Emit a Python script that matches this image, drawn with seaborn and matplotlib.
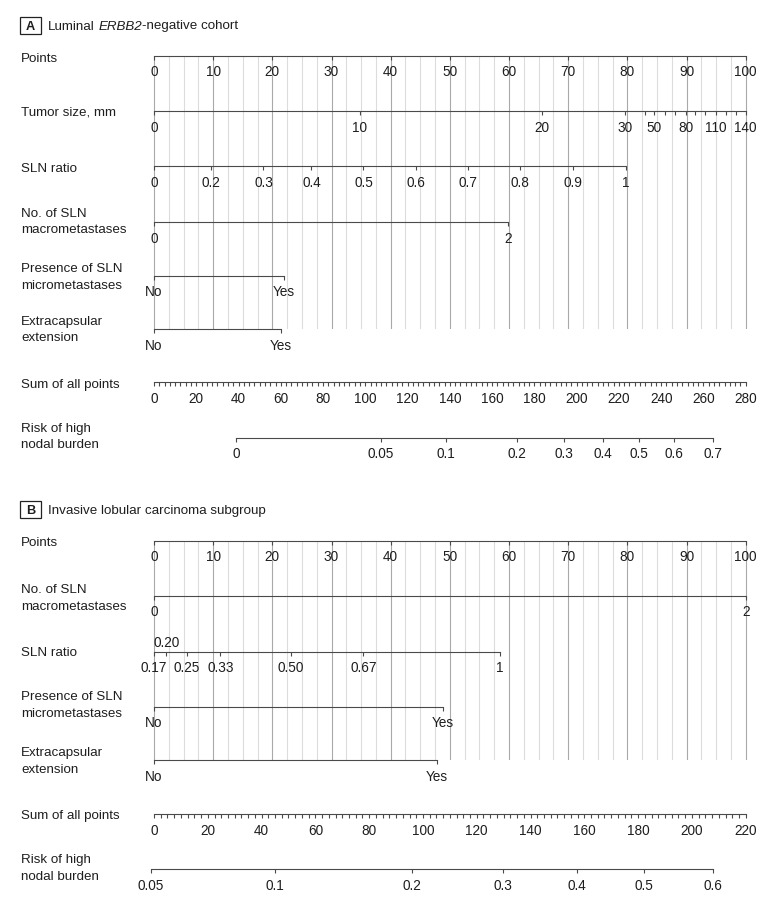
import numpy as np
import pandas as pd
import matplotlib
matplotlib.use("Agg")
import matplotlib.pyplot as plt
from matplotlib.patches import Rectangle
import seaborn as sns

# ---------------- data ----------------
points_values = [0, 10, 20, 30, 40, 50, 60, 70, 80, 90, 100]

# Panel A: Luminal ERBB2-negative cohort
a_tumor_labels = ['0', '10', '20', '30', '', '50', '', '', '80', '', '', '110', '', '', '140']
a_tumor_points = [0, 34.8, 65.5, 79.6, 82.9, 84.5, 86.4, 88.1, 89.9, 91.4, 93.1, 94.9, 96.6, 98.3, 100]
a_ratio_labels = ['0', '0.2', '0.3', '0.4', '0.5', '0.6', '0.7', '0.8', '0.9', '1']
a_ratio_points = [0, 9.6, 18.5, 26.6, 35.4, 44.2, 53.1, 61.9, 70.8, 79.7]
a_macro_labels = ['0', '2']
a_macro_points = [0, 59.8]
a_micro_labels = ['No', 'Yes']
a_micro_points = [0, 21.9]
a_ece_labels = ['No', 'Yes']
a_ece_points = [0, 21.5]
a_total_max = 280
a_risk_labels = ['0', '0.05', '0.1', '0.2', '0.3', '0.4', '0.5', '0.6', '0.7']
a_risk_total = [38.7, 107.3, 138.0, 171.9, 194.2, 212.5, 229.5, 246.2, 264.7]

# Panel B: Invasive lobular carcinoma subgroup
b_macro_labels = ['0', '2']
b_macro_points = [0, 100]
b_ratio_labels = ['0.17', '0.20', '0.25', '0.33', '0.50', '0.67', '1']
b_ratio_points = [0, 2.1, 5.6, 11.2, 23.1, 35.4, 58.5]
b_micro_labels = ['No', 'Yes']
b_micro_points = [0, 48.8]
b_ece_labels = ['No', 'Yes']
b_ece_points = [0, 47.8]
b_total_max = 220
b_risk_labels = ['0.05', '0.1', '0.2', '0.3', '0.4', '0.5', '0.6']
b_risk_total = [-1.2, 45.1, 95.8, 129.6, 157.2, 182.3, 208.0]

# ---------------- style ----------------
sns.set_theme(style="white")
plt.rcParams['font.family'] = ['Liberation Sans', 'DejaVu Sans']

W, H = 780, 901
FS = 9.6      # row label size
TS = 9.8      # tick label size
TXT = '#1e1e1e'
AXC = '#4a4a4a'
GRID_LIGHT = '#dcdcdc'
GRID_DARK = '#a9a9a9'
PX = 72 / 100.0  # points per pixel
TICK_LEN = 4 * PX
TICK_PAD = 5.6 * PX

X0, X1, MARGIN = 154.0, 745.7, 25.0

fig = plt.figure(figsize=(W / 100, H / 100), dpi=100)
fig.patch.set_facecolor('white')
base = fig.add_axes([0, 0, 1, 1])
base.axis('off')
base.set_xlim(0, 1)
base.set_ylim(0, 1)


def make_row(y_line, vmax):
    ax = fig.add_axes([(X0 - MARGIN) / W, 1 - y_line / H,
                       (X1 - X0 + 2 * MARGIN) / W, 0.5 / H])
    per = vmax / (X1 - X0)
    ax.set_xlim(-MARGIN * per, vmax + MARGIN * per)
    ax.set_ylim(0, 1)
    ax.patch.set_visible(False)
    sns.despine(ax=ax, left=True, top=True, right=True)
    ax.set_yticks([])
    ax.spines['bottom'].set_color(AXC)
    ax.spines['bottom'].set_linewidth(0.8)
    ax.tick_params(axis='x', which='both', direction='out', length=TICK_LEN,
                   width=0.8, color=AXC, pad=TICK_PAD, labelsize=TS,
                   labelcolor=TXT, bottom=True)
    return ax


def scale(y_line, pos, labels, vmax=100):
    ax = make_row(y_line, vmax)
    ax.set_xticks(pos, labels)
    ax.spines['bottom'].set_bounds(min(pos), max(pos))
    return ax


def total_scale(y_line, vmax):
    ax = make_row(y_line, vmax)
    ax.set_xticks(np.arange(0, vmax + 0.1, 20), [str(v) for v in range(0, vmax + 1, 20)])
    ax.set_xticks(np.arange(0, vmax + 0.1, 2.5), minor=True)
    ax.spines['bottom'].set_bounds(0, vmax)
    return ax


def grid(y_top, y_bot):
    gax = fig.add_axes([(X0 - MARGIN) / W, 1 - y_bot / H,
                        (X1 - X0 + 2 * MARGIN) / W, (y_bot - y_top) / H])
    per = 100 / (X1 - X0)
    gax.set_xlim(-MARGIN * per, 100 + MARGIN * per)
    gax.set_ylim(0, 1)
    gax.axis('off')
    steps = np.arange(0, 100.01, 2.5)
    light = [s for s in steps if s % 10 != 0]
    dark = [s for s in steps if s % 10 == 0]
    sns.rugplot(x=light, height=1, ax=gax, color=GRID_LIGHT, linewidth=0.8,
                expand_margins=False)
    sns.rugplot(x=dark, height=1, ax=gax, color=GRID_DARK, linewidth=0.8,
                expand_margins=False)
    gax.set_xlim(-MARGIN * per, 100 + MARGIN * per)
    gax.set_ylim(0, 1)


def row_label(lines_baselines):
    for txt, yb in lines_baselines:
        fig.text(21 / W, 1 - yb / H, txt, ha='left', va='baseline',
                 fontsize=FS, color=TXT)


def title(letter, y_base, box_top, box_bot, parts):
    fig.patches.append(Rectangle((20 / W, 1 - box_bot / H), 20.5 / W,
                                 (box_bot - box_top) / H, transform=fig.transFigure,
                                 fill=False, ec='#222222', lw=0.9))
    fig.text(30.3 / W, 1 - y_base / H, letter, ha='center', va='baseline',
             fontsize=FS - 0.4, fontweight='bold', color=TXT)
    prev = fig.text(48 / W, 1 - y_base / H, parts[0][0], ha='left', va='baseline',
                    fontsize=FS, color=TXT, style=parts[0][1])
    for txt, sty, gap in parts[1:]:
        prev = base.annotate(txt, xy=(1, 0), xycoords=prev, xytext=(gap, 0),
                             textcoords='offset points', ha='left', va='bottom',
                             fontsize=FS, color=TXT, style=sty, annotation_clip=False)


# ---------------- Panel A ----------------
title('A', 29.5, 17.0, 33.5,
      [('Luminal', 'normal'), ('ERBB2', 'italic', 2.7), ('-negative cohort', 'normal', 0)])
grid(55.7, 329.3)
scale(55.7, points_values, [str(v) for v in points_values])
row_label([('Points', 61.7)])
scale(111.0, a_tumor_points, a_tumor_labels)
row_label([('Tumor size, mm', 115.5)])
scale(166.3, a_ratio_points, a_ratio_labels)
row_label([('SLN ratio', 171.7)])
scale(222.3, a_macro_points, a_macro_labels)
row_label([('No. of SLN', 216.7), ('macrometastases', 233.3)])
scale(275.7, a_micro_points, a_micro_labels)
row_label([('Presence of SLN', 272.3), ('micrometastases', 289.0)])
scale(329.3, a_ece_points, a_ece_labels)
row_label([('Extracapsular', 325.0), ('extension', 341.5)])
total_scale(382.3, a_total_max)
row_label([('Sum of all points', 388.3)])
scale(437.7, a_risk_total, a_risk_labels, vmax=a_total_max)
row_label([('Risk of high', 431.7), ('nodal burden', 448.3)])

# ---------------- Panel B ----------------
title('B', 513.8, 500.5, 517.5,
      [('Invasive lobular carcinoma subgroup', 'normal')])
grid(540.7, 760.3)
scale(540.7, points_values, [str(v) for v in points_values])
row_label([('Points', 545.5)])
scale(595.7, b_macro_points, b_macro_labels)
row_label([('No. of SLN', 593.3), ('macrometastases', 610.0)])
ax_r = scale(651.7, b_ratio_points, [l if l != '0.20' else '' for l in b_ratio_labels])
ax_r.annotate('0.20', xy=(b_ratio_points[b_ratio_labels.index('0.20')], 0),
              xycoords=ax_r.get_xaxis_transform(), xytext=(0, 5 * PX),
              textcoords='offset points', ha='center', va='baseline',
              fontsize=TS, color=TXT, annotation_clip=False)
row_label([('SLN ratio', 655.7)])
scale(706.7, b_micro_points, b_micro_labels)
row_label([('Presence of SLN', 700.0), ('micrometastases', 716.7)])
scale(760.3, b_ece_points, b_ece_labels)
row_label([('Extracapsular', 756.0), ('extension', 772.7)])
total_scale(814.0, b_total_max)
row_label([('Sum of all points', 819.3)])
scale(869.3, b_risk_total, b_risk_labels, vmax=b_total_max)
row_label([('Risk of high', 863.3), ('nodal burden', 880.0)])

fig.savefig('out.png', dpi=100, facecolor='white')
